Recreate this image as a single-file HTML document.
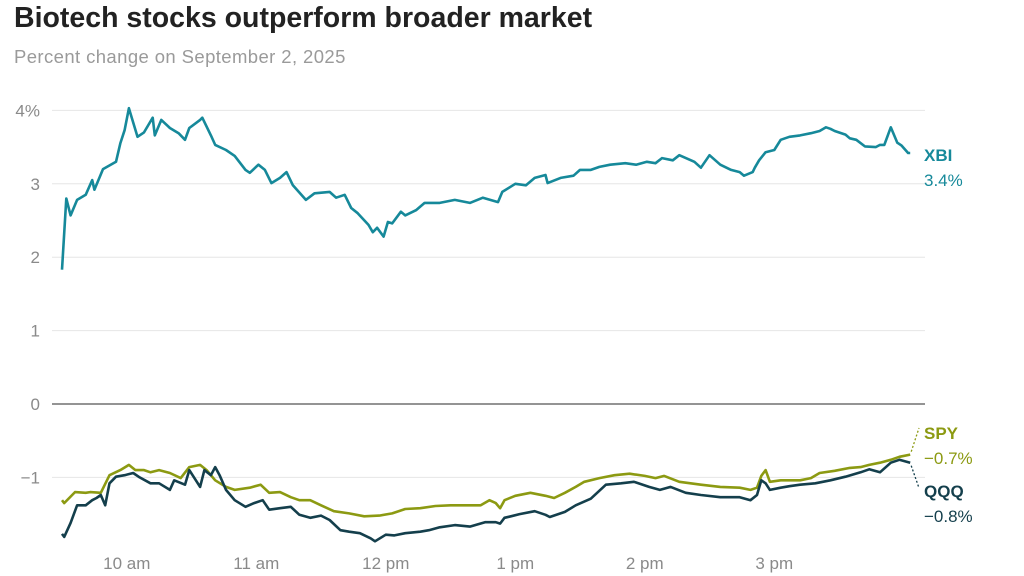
<!DOCTYPE html>
<html><head><meta charset="utf-8"><style>
body{margin:0;background:#fff;width:1024px;height:576px;overflow:hidden;font-family:"Liberation Sans",sans-serif;}
#title{position:absolute;left:14px;top:2px;font-size:28.5px;font-weight:bold;color:#222;}
#sub{position:absolute;left:14px;top:46px;font-size:18.5px;letter-spacing:0.4px;color:#9a9a9a;}
svg{position:absolute;left:0;top:0;}
</style></head><body>
<div id="title">Biotech stocks outperform broader market</div>
<div id="sub">Percent change on September 2, 2025</div>
<svg id="chart" width="1024" height="576"></svg>
<script>
const yTicks=[4,3,2,1,0,-1];
const yTickLabels=["4%","3","2","1","0","\u22121"];
const xTicks=[30,90,150,210,270,330];
const xTickLabels=["10 am","11 am","12 pm","1 pm","2 pm","3 pm"];
const xbiT=[0,2,4,7,11,14,15,19,25,27,29,31,35,38,40,42,43,46,50,54,57,59,64,65,69,71,76,80,85,87,91,94,97,101,104,107,113,117,124,127,131,134,137,142,144,146,149,151,153,157,159,164,168,175,182,189,195,202,204,210,215,219,224,225,231,237,240,245,249,254,261,266,271,275,278,283,286,293,296,300,305,310,314,316,320,321,323,326,330,333,337,342,347,351,354,356,358,363,365,368,372,377,379,381,384,387,389,392,393];
const xbiV=[1.83,2.8,2.57,2.78,2.85,3.05,2.92,3.2,3.3,3.55,3.73,4.03,3.64,3.7,3.8,3.9,3.66,3.87,3.76,3.69,3.6,3.76,3.87,3.9,3.66,3.53,3.46,3.38,3.19,3.15,3.26,3.19,3.01,3.08,3.16,2.98,2.78,2.87,2.89,2.81,2.85,2.67,2.6,2.44,2.34,2.4,2.28,2.48,2.46,2.62,2.57,2.64,2.74,2.74,2.78,2.74,2.81,2.75,2.89,3.0,2.98,3.08,3.12,3.01,3.08,3.11,3.19,3.19,3.23,3.26,3.28,3.26,3.3,3.28,3.35,3.32,3.39,3.3,3.22,3.39,3.26,3.19,3.16,3.11,3.16,3.22,3.32,3.43,3.46,3.6,3.64,3.66,3.69,3.72,3.77,3.75,3.72,3.67,3.62,3.6,3.51,3.5,3.53,3.53,3.77,3.56,3.52,3.42,3.42];
const spyT=[0,1,6,11,13,18,22,27,31,34,38,41,45,50,55,59,64,67,71,76,80,87,92,96,101,106,110,115,120,126,133,140,147,153,159,166,173,180,187,194,198,201,203,205,210,217,224,228,233,238,242,249,256,263,270,275,279,286,296,305,314,319,322,324,326,328,333,337,342,347,351,358,365,370,374,379,384,388,393];
const spyV=[-1.31,-1.35,-1.2,-1.21,-1.2,-1.21,-0.97,-0.9,-0.83,-0.9,-0.9,-0.93,-0.9,-0.94,-1.01,-0.86,-0.83,-0.9,-1.04,-1.13,-1.17,-1.14,-1.1,-1.21,-1.2,-1.27,-1.31,-1.31,-1.38,-1.46,-1.49,-1.53,-1.52,-1.49,-1.43,-1.42,-1.39,-1.38,-1.38,-1.38,-1.31,-1.35,-1.42,-1.31,-1.25,-1.21,-1.25,-1.28,-1.21,-1.13,-1.06,-1.01,-0.97,-0.95,-0.98,-1.01,-0.98,-1.06,-1.1,-1.13,-1.14,-1.17,-1.14,-0.98,-0.9,-1.06,-1.04,-1.04,-1.04,-1.01,-0.94,-0.91,-0.87,-0.86,-0.83,-0.8,-0.76,-0.72,-0.69];
const qqqT=[0,1,4,7,11,14,16,18,20,22,25,29,33,36,41,45,50,52,57,59,64,66,69,71,73,76,80,85,89,93,96,101,106,110,115,120,124,129,133,138,143,145,150,154,159,166,170,175,182,189,196,201,203,205,208,212,219,224,226,233,238,245,252,259,265,272,277,282,289,296,305,314,319,322,324,326,328,333,337,342,349,356,363,370,374,379,384,388,393];
const qqqV=[-1.77,-1.81,-1.62,-1.38,-1.38,-1.31,-1.28,-1.24,-1.38,-1.08,-0.99,-0.97,-0.94,-1.0,-1.08,-1.08,-1.17,-1.04,-1.1,-0.9,-1.13,-0.9,-0.97,-0.86,-0.97,-1.17,-1.31,-1.4,-1.35,-1.31,-1.44,-1.42,-1.4,-1.51,-1.55,-1.52,-1.58,-1.72,-1.74,-1.76,-1.83,-1.87,-1.78,-1.79,-1.76,-1.74,-1.72,-1.68,-1.65,-1.67,-1.61,-1.61,-1.63,-1.55,-1.53,-1.5,-1.46,-1.51,-1.54,-1.47,-1.38,-1.29,-1.1,-1.08,-1.06,-1.13,-1.17,-1.13,-1.21,-1.24,-1.27,-1.27,-1.31,-1.24,-1.04,-1.08,-1.17,-1.14,-1.12,-1.1,-1.08,-1.04,-0.99,-0.93,-0.89,-0.93,-0.8,-0.76,-0.8];

const NS="http://www.w3.org/2000/svg";
const svg=document.getElementById('chart');
const X=t=>62+t*129.5/60;
const Y=v=>404-v*73.4;
function mk(tag,attrs){const e=document.createElementNS(NS,tag);for(const k in attrs)e.setAttribute(k,attrs[k]);svg.appendChild(e);return e;}
yTicks.forEach((v,i)=>{
  const l=mk('line',{x1:52,x2:925,y1:Y(v),y2:Y(v),stroke:v===0?'#555':'#e6e6e6','stroke-width':v===0?1.3:1});
  
  
  const t=mk('text',{x:40,y:Y(v)+6,'text-anchor':'end','font-size':17,fill:'#8a8a8a'});
  t.textContent=yTickLabels[i];
  
  
});
xTicks.forEach((m,i)=>{
  const t=mk('text',{x:X(m),y:569,'text-anchor':'middle','font-size':17,fill:'#8a8a8a'});
  t.textContent=xTickLabels[i];
  
  
});
function series(T,V,color,name){
  const p=mk('polyline',{points:T.map((t,i)=>X(t).toFixed(1)+','+Y(V[i]).toFixed(1)).join(' '),fill:'none',stroke:color,'stroke-width':2.6,'stroke-linejoin':'round'});
  
  
  return [X(T[T.length-1]),Y(V[V.length-1])];
}
series(spyT,spyV,'#8c9a12','spy-line');
const qe=series(qqqT,qqqV,'#143f4c','qqq-line');
series(xbiT,xbiV,'#16899a','xbi-line');
const se=[X(spyT[spyT.length-1]),Y(spyV[spyV.length-1])];
const c1=mk('line',{x1:se[0]+1,y1:se[1]-3,x2:919,y2:428,stroke:'#8c9a12','stroke-dasharray':'2,2','stroke-width':1.3});


const c2=mk('line',{x1:qe[0]+1,y1:qe[1]+3,x2:919,y2:488,stroke:'#143f4c','stroke-dasharray':'2,2','stroke-width':1.3});


function lab(x,y,txt,color,bold,name){
  const t=mk('text',{x:x,y:y,'font-size':17,fill:color,'font-weight':bold?'bold':'normal'});
  t.textContent=txt;
  
  
}
lab(924,161,'XBI','#16899a',true,'xbi-label');
lab(924,186,'3.4%','#16899a',false,'xbi-value');
lab(924,439,'SPY','#8c9a12',true,'spy-label');
lab(924,464,'\u22120.7%','#8c9a12',false,'spy-value');
lab(924,497,'QQQ','#143f4c',true,'qqq-label');
lab(924,522,'\u22120.8%','#143f4c',false,'qqq-value');
</script>
</body></html>
